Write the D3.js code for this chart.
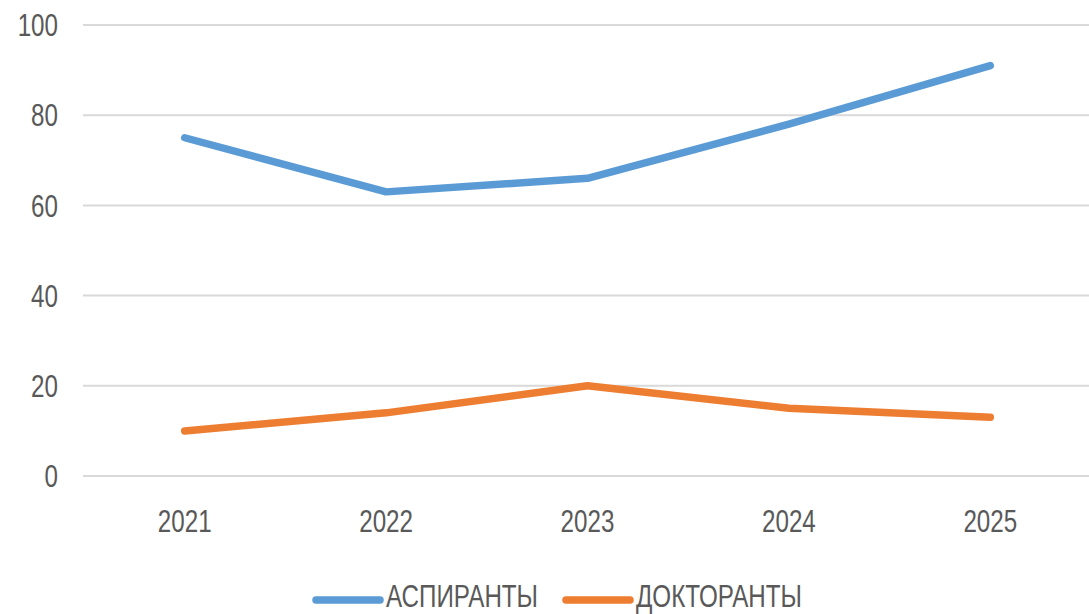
<!DOCTYPE html>
<html>
<head>
<meta charset="utf-8">
<script src="https://cdn.jsdelivr.net/npm/d3@7"></script>
<style>
  html, body { margin: 0; padding: 0; background: #fff; }
  svg { display: block; }
</style>
</head>
<body>
<div id="chart"></div>
<script>
// data
const years = ['2021', '2022', '2023', '2024', '2025'];
const aspiranty = [75, 63, 66, 78, 91];
const doktoranty = [10, 14, 20, 15, 13];
const yTicks = [0, 20, 40, 60, 80, 100];
const seriesNames = ['АСПИРАНТЫ', 'ДОКТОРАНТЫ'];
const seriesColors = ['#5B9BD5', '#ED7D31'];

const width = 1089, height = 614;
const FONT = '"Liberation Sans", Arial, sans-serif';
const FONT_SIZE = 31;
const SQUEEZE = 0.78; // the original font is a narrow one

const svg = d3.select('#chart').append('svg')
  .attr('width', width)
  .attr('height', height);

const x = d3.scalePoint()
  .domain(years)
  .range([84, 1091])
  .padding(0.5);

const y = d3.scaleLinear()
  .domain([0, 100])
  .range([476, 25]);

// narrow text helper: group translated to the anchor, text squeezed horizontally
function narrowText(parent, tx, ty, str, anchor, dy) {
  const g = parent.append('g')
    .attr('transform', `translate(${tx}, ${ty}) scale(${SQUEEZE}, 1)`);
  g.append('text')
    .attr('text-anchor', anchor)
    .attr('dy', dy || 0)
    .attr('font-family', FONT)
    .attr('font-size', FONT_SIZE)
    .attr('fill', '#595959')
    .text(str);
  return g;
}

// gridlines
svg.append('g')
  .selectAll('line')
  .data(yTicks)
  .join('line')
  .attr('x1', 83)
  .attr('x2', width)
  .attr('y1', d => y(d))
  .attr('y2', d => y(d))
  .attr('stroke', '#D9D9D9')
  .attr('stroke-width', 2);

// y labels
const yLab = svg.append('g');
yTicks.forEach(t => narrowText(yLab, 58, y(t), t, 'end', '0.36em'));

// x labels
const xLab = svg.append('g');
years.forEach(yr => narrowText(xLab, x(yr), 532, yr, 'middle'));

// lines
const line = d3.line()
  .x((d, i) => x(years[i]))
  .y(d => y(d));

[aspiranty, doktoranty].forEach((vals, i) => {
  svg.append('path')
    .datum(vals)
    .attr('d', line)
    .attr('fill', 'none')
    .attr('stroke', seriesColors[i])
    .attr('stroke-width', 7.5)
    .attr('stroke-linecap', 'round')
    .attr('stroke-linejoin', 'round');
});

// legend
const legendX = [316, 566];
const legend = svg.append('g');
seriesNames.forEach((name, i) => {
  const g = legend.append('g').attr('transform', `translate(${legendX[i]}, 600)`);
  g.append('line')
    .attr('x1', 0).attr('x2', 64)
    .attr('stroke', seriesColors[i])
    .attr('stroke-width', 7.5)
    .attr('stroke-linecap', 'round');
  narrowText(g, 70, 7, name, 'start');
});
</script>
</body>
</html>
